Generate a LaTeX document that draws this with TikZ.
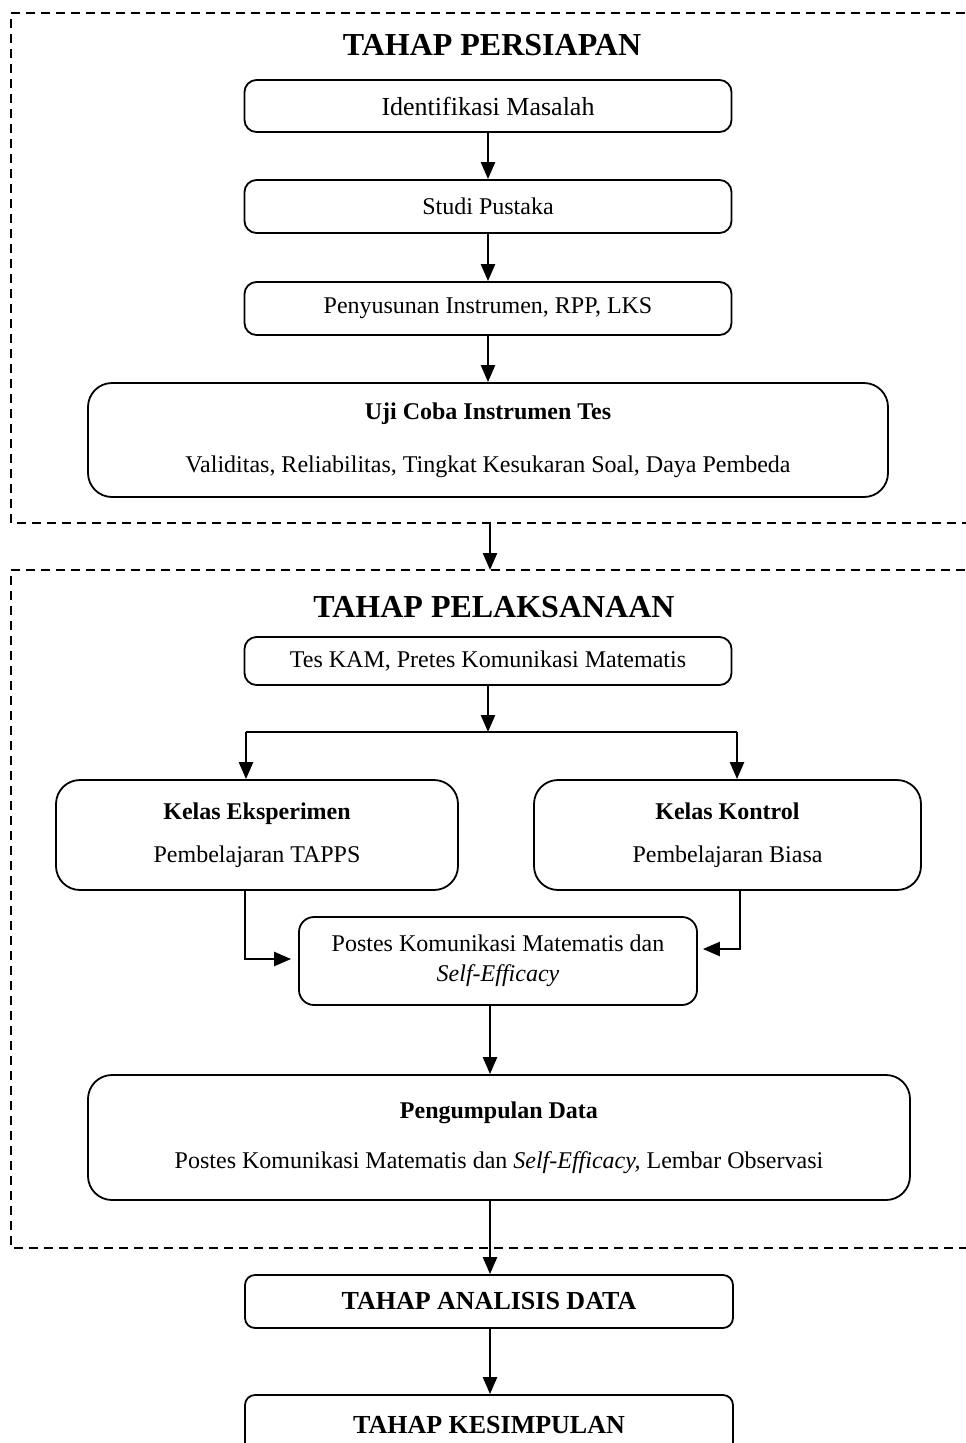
\documentclass[tikz,border=0pt]{standalone}
\usepackage{fontspec}
\setmainfont{Liberation Serif}
\usepackage{tikz}
\usetikzlibrary{arrows.meta,positioning,calc}
\definecolor{flowink}{HTML}{000000}

\begin{document}
\begin{tikzpicture}[x=1pt,y=1pt,
    stagebox/.style={draw=flowink,line width=1.8pt,rounded corners=12pt,align=center,
        font=\fontsize{24}{27}\selectfont,inner sep=0pt},
    bigbox/.style={stagebox,rounded corners=24pt},
    phaseframe/.style={draw=flowink,line width=1.8pt,dash pattern=on 9pt off 6pt},
    phasetitle/.style={font=\fontsize{32}{36}\selectfont\bfseries},
    flow/.style={draw=flowink,line width=2.4pt,-{Triangle[length=17pt,width=14pt]}},
    link/.style={draw=flowink,line width=2.4pt}]
    \useasboundingbox (0,0) rectangle (966,-1443);
    \coordinate (axis) at (490,0);
    % dashed frames of the two phases
    \draw[phaseframe] (980,-13) -- (11,-13) -- (11,-523) -- (980,-523);
    \draw[phaseframe] (980,-570) -- (11,-570) -- (11,-1248) -- (980,-1248);
    \coordinate (frameA) at (490,-523);
    \coordinate (frameB) at (490,-570);
    \node[phasetitle] (persiapan) at (492,-45) {TAHAP PERSIAPAN};
    \node[phasetitle] (pelaksanaan) at (494,-607) {TAHAP PELAKSANAAN};
    % preparation
    \node[stagebox,minimum width=487pt,minimum height=52pt,font=\fontsize{26}{30}\selectfont] (masalah) at (488,-106) {Identifikasi Masalah};
    \node[stagebox,minimum width=487pt,minimum height=53pt] (pustaka) at (488,-206.5) {Studi Pustaka};
    \node[stagebox,minimum width=487pt,minimum height=53pt] (instrumen) at (488,-308.5) {Penyusunan Instrumen, RPP, LKS};
    \node[bigbox,minimum width=800pt,minimum height=114pt] (ujicoba) at (488,-440)
        {\textbf{Uji Coba Instrumen Tes}\\[26pt]Validitas, Reliabilitas, Tingkat Kesukaran Soal, Daya Pembeda};
    % implementation
    \node[stagebox,minimum width=487pt,minimum height=48pt] (pretes) at (488,-661) {Tes KAM, Pretes Komunikasi Matematis};
    \node[bigbox,minimum width=402pt,minimum height=110pt] (eksperimen) at (257,-835)
        {\textbf{Kelas Eksperimen}\\[16pt]Pembelajaran TAPPS};
    \node[bigbox,minimum width=387pt,minimum height=110pt] (kontrol) at (727.5,-835)
        {\textbf{Kelas Kontrol}\\[16pt]Pembelajaran Biasa};
    \node[stagebox,rounded corners=15pt,minimum width=398pt,minimum height=88pt,font=\fontsize{24}{30}\selectfont] (postes) at (498,-961)
        {Postes Komunikasi Matematis dan\\\textit{Self-Efficacy}};
    \node[bigbox,minimum width=822pt,minimum height=125pt] (pengumpulan) at (499,-1137.5)
        {\textbf{Pengumpulan Data}\\[23pt]Postes Komunikasi Matematis dan \textit{Self-Efficacy,} Lembar Observasi};
    % analysis and conclusion
    \node[stagebox,rounded corners=10pt,minimum width=488pt,minimum height=53pt,font=\fontsize{26}{30}\selectfont\bfseries] (analisis) at (489,-1301.5) {TAHAP ANALISIS DATA};
    \node[stagebox,rounded corners=10pt,minimum width=488pt,minimum height=60pt,font=\fontsize{26}{30}\selectfont\bfseries] (kesimpulan) at (489,-1425) {TAHAP KESIMPULAN};
    % connectors
    \draw[flow] (masalah) -- (pustaka);
    \draw[flow] (pustaka) -- (instrumen);
    \draw[flow] (instrumen) -- (ujicoba);
    \draw[flow] (frameA) -- (frameB);
    \coordinate (split) at (488,-732);
    \coordinate (splitL) at (246,-732);
    \coordinate (splitR) at (737,-732);
    \draw[flow] (pretes) -- (split);
    \draw[link] (splitL) -- (splitR);
    \draw[flow] (splitL) -- (splitL |- eksperimen.north);
    \draw[flow] (splitR) -- (splitR |- kontrol.north);
    \coordinate (joinL) at (245,-959);
    \coordinate (joinR) at (740,-949);
    \draw[flow,shorten >=7pt] (joinL |- eksperimen.south) -- (joinL) -- (joinL -| postes.west);
    \draw[flow,shorten >=5pt] (joinR |- kontrol.south) -- (joinR) -- (joinR -| postes.east);
    \draw[flow] (postes.south -| axis) -- (pengumpulan.north -| axis);
    \draw[flow] (pengumpulan.south -| axis) -- (analisis.north -| axis);
    \draw[flow] (analisis.south -| axis) -- (kesimpulan.north -| axis);
\end{tikzpicture}
\end{document}
